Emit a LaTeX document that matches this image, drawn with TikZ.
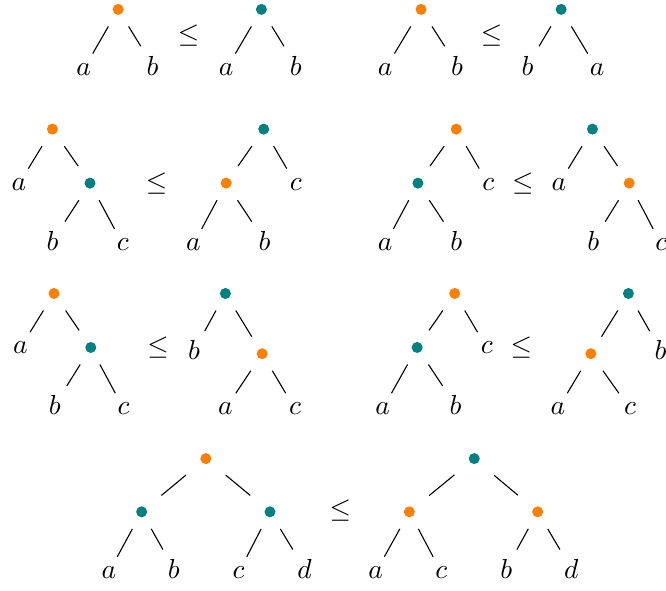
\documentclass[tikz,border=0pt]{standalone}
\begin{document}
\begin{tikzpicture}[
  dot/.style={inner sep=0pt, minimum width=14pt, minimum height=12pt, path picture={\fill[#1] (path picture bounding box.center) circle (2pt);}},
  leaf/.style={anchor=base}
]
  \useasboundingbox (0,0) rectangle (8.51,-7.54);

  \node[dot=orange] (t1) at (1.51,-0.12) {};
  \node[leaf] (t1a) at (1.07,-0.96) {$a$};
  \node[leaf] (t1b) at (1.95,-0.96) {$b$};
  \node (le1) at (2.41,-0.45) {$\leq$};
  \node[dot=teal] (t2) at (3.34,-0.12) {};
  \node[leaf] (t2a) at (2.89,-0.96) {$a$};
  \node[leaf] (t2b) at (3.78,-0.96) {$b$};

  \node[dot=orange] (t3) at (5.38,-0.12) {};
  \node[leaf] (t3a) at (4.92,-0.96) {$a$};
  \node[leaf] (t3b) at (5.84,-0.96) {$b$};
  \node (le2) at (6.28,-0.45) {$\leq$};
  \node[dot=teal] (t4) at (7.17,-0.12) {};
  \node[leaf] (t4b) at (6.74,-0.96) {$b$};
  \node[leaf] (t4a) at (7.63,-0.96) {$a$};

  \node[dot=orange] (t5) at (0.67,-1.65) {};
  \node[leaf] (t5a) at (0.24,-2.43) {$a$};
  \node[dot=teal] (t5x) at (1.15,-2.34) {};
  \node[leaf] (t5b) at (0.67,-3.20) {$b$};
  \node[leaf] (t5c) at (1.57,-3.20) {$c$};
  \node (le3) at (2.00,-2.34) {$\leq$};
  \node[dot=teal] (t6) at (3.37,-1.65) {};
  \node[dot=orange] (t6x) at (2.89,-2.34) {};
  \node[leaf] (t6c) at (3.78,-2.43) {$c$};
  \node[leaf] (t6a) at (2.47,-3.20) {$a$};
  \node[leaf] (t6b) at (3.38,-3.20) {$b$};

  \node[dot=orange] (t7) at (5.83,-1.65) {};
  \node[dot=teal] (t7x) at (5.34,-2.34) {};
  \node[leaf] (t7c) at (6.24,-2.43) {$c$};
  \node[leaf] (t7a) at (4.92,-3.20) {$a$};
  \node[leaf] (t7b) at (5.83,-3.20) {$b$};
  \node (le4) at (6.68,-2.34) {$\leq$};
  \node[dot=teal] (t8) at (7.57,-1.65) {};
  \node[leaf] (t8a) at (7.14,-2.43) {$a$};
  \node[dot=orange] (t8x) at (8.04,-2.34) {};
  \node[leaf] (t8b) at (7.58,-3.20) {$b$};
  \node[leaf] (t8c) at (8.45,-3.20) {$c$};

  \node[dot=orange] (t9) at (0.69,-3.75) {};
  \node[leaf] (t9a) at (0.26,-4.52) {$a$};
  \node[dot=teal] (t9x) at (1.16,-4.44) {};
  \node[leaf] (t9b) at (0.70,-5.30) {$b$};
  \node[leaf] (t9c) at (1.58,-5.30) {$c$};
  \node (le5) at (2.02,-4.44) {$\leq$};
  \node[dot=teal] (t10) at (2.88,-3.75) {};
  \node[leaf] (t10b) at (2.48,-4.60) {$b$};
  \node[dot=orange] (t10x) at (3.35,-4.52) {};
  \node[leaf] (t10a) at (2.88,-5.30) {$a$};
  \node[leaf] (t10c) at (3.77,-5.30) {$c$};

  \node[dot=orange] (t11) at (5.81,-3.75) {};
  \node[dot=teal] (t11x) at (5.33,-4.44) {};
  \node[leaf] (t11c) at (6.22,-4.52) {$c$};
  \node[leaf] (t11a) at (4.89,-5.30) {$a$};
  \node[leaf] (t11b) at (5.82,-5.30) {$b$};
  \node (le6) at (6.66,-4.44) {$\leq$};
  \node[dot=teal] (t12) at (8.03,-3.75) {};
  \node[dot=orange] (t12x) at (7.55,-4.52) {};
  \node[leaf] (t12b) at (8.44,-4.60) {$b$};
  \node[leaf] (t12a) at (7.13,-5.30) {$a$};
  \node[leaf] (t12c) at (8.05,-5.30) {$c$};

  \node[dot=orange] (t13) at (2.63,-5.86) {};
  \node[dot=teal] (t13x) at (1.81,-6.54) {};
  \node[dot=teal] (t13y) at (3.45,-6.54) {};
  \node[leaf] (t13a) at (1.39,-7.39) {$a$};
  \node[leaf] (t13b) at (2.22,-7.39) {$b$};
  \node[leaf] (t13c) at (3.05,-7.39) {$c$};
  \node[leaf] (t13d) at (3.89,-7.39) {$d$};
  \node (le7) at (4.35,-6.52) {$\leq$};
  \node[dot=teal] (t14) at (6.06,-5.86) {};
  \node[dot=orange] (t14x) at (5.23,-6.54) {};
  \node[dot=orange] (t14y) at (6.87,-6.54) {};
  \node[leaf] (t14a) at (4.80,-7.39) {$a$};
  \node[leaf] (t14c) at (5.64,-7.39) {$c$};
  \node[leaf] (t14b) at (6.47,-7.39) {$b$};
  \node[leaf] (t14d) at (7.30,-7.39) {$d$};

  \foreach \p/\c in {t1/t1a, t1/t1b, t2/t2a, t2/t2b, t3/t3a, t3/t3b, t4/t4b, t4/t4a,
      t5/t5a, t5/t5x, t5x/t5b, t5x/t5c, t6/t6x, t6/t6c, t6x/t6a, t6x/t6b,
      t7/t7x, t7/t7c, t7x/t7a, t7x/t7b, t8/t8a, t8/t8x, t8x/t8b, t8x/t8c,
      t9/t9a, t9/t9x, t9x/t9b, t9x/t9c, t10/t10b, t10/t10x, t10x/t10a, t10x/t10c,
      t11/t11x, t11/t11c, t11x/t11a, t11x/t11b, t12/t12x, t12/t12b, t12x/t12a, t12x/t12c,
      t13/t13x, t13/t13y, t13x/t13a, t13x/t13b, t13y/t13c, t13y/t13d,
      t14/t14x, t14/t14y, t14x/t14a, t14x/t14c, t14y/t14b, t14y/t14d}
    \draw (\p) -- (\c);
\end{tikzpicture}
\end{document}
